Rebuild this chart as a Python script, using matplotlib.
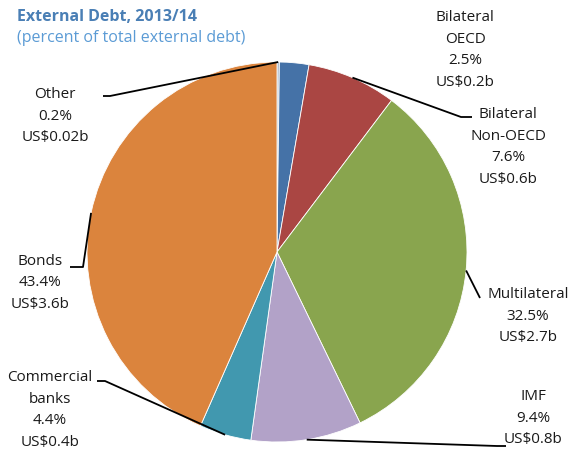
import matplotlib
matplotlib.use("Agg")
import matplotlib.pyplot as plt
import numpy as np

plt.rcParams['font.family'] = ['Open Sans', 'DejaVu Sans']

# external debt breakdown, 2013/14
categories = ["Other", "Bilateral\nOECD", "Bilateral\nNon-OECD", "Multilateral",
              "IMF", "Commercial\nbanks", "Bonds"]
shares = [0.2, 2.5, 7.6, 32.5, 9.4, 4.4, 43.4]
amounts = ["US$0.02b", "US$0.2b", "US$0.6b", "US$2.7b", "US$0.8b", "US$0.4b", "US$3.6b"]
colors = ["#a7b5c9", "#4572a7", "#aa4643", "#89a54e", "#b2a2c8", "#4198af", "#db843d"]

W, H = 575, 454
fig = plt.figure(figsize=(W / 100, H / 100), dpi=100)
ax = fig.add_axes([0, 0, 1, 1])

cx, cy, r = 277, H - 252, 190
wedges, _ = ax.pie(shares, colors=colors, startangle=90, counterclock=False,
                   center=(cx, cy), radius=r, frame=True,
                   wedgeprops=dict(linewidth=0.6, edgecolor="white"))
ax.set_xlim(0, W)
ax.set_ylim(0, H)
ax.set_aspect("equal")
ax.axis("off")

# label layout: text centre (x, y from top), then leader points (elbow, end) or None
layout = [
    ((55, 116), [(110, 96), (103, 96)]),
    ((465, 50), None),
    ((508, 147), [(461, 117), (472, 117)]),
    ((528, 316), [(480, 298)]),
    ((533, 418), [(497, 446), (506, 446)]),
    ((50, 410), [(105, 381), (97, 381)]),
    ((40, 283), [(83, 267), (70, 267)]),
]

for w, cat, pct, amt, (tpos, leader) in zip(wedges, categories, shares, amounts, layout):
    ax.text(tpos[0], H - tpos[1], f"{cat}\n{pct}%\n{amt}", ha="center", va="center",
            fontsize=11, color="#1a1a1a", linespacing=1.62)
    if leader is None:
        continue
    mid = np.deg2rad((w.theta1 + w.theta2) / 2)
    xs = [cx + r * np.cos(mid)] + [p[0] for p in leader]
    ys = [cy + r * np.sin(mid)] + [H - p[1] for p in leader]
    ax.plot(xs, ys, color="black", linewidth=1.3, solid_capstyle="butt")

ax.text(17, H - 17, "External Debt, 2013/14", fontsize=11.5, fontweight="bold",
        color="#4a7fb5", va="center", ha="left")
ax.text(17, H - 38, "(percent of total external debt)", fontsize=11.5,
        color="#5b9bd5", va="center", ha="left")

fig.savefig("out.png", dpi=100)
